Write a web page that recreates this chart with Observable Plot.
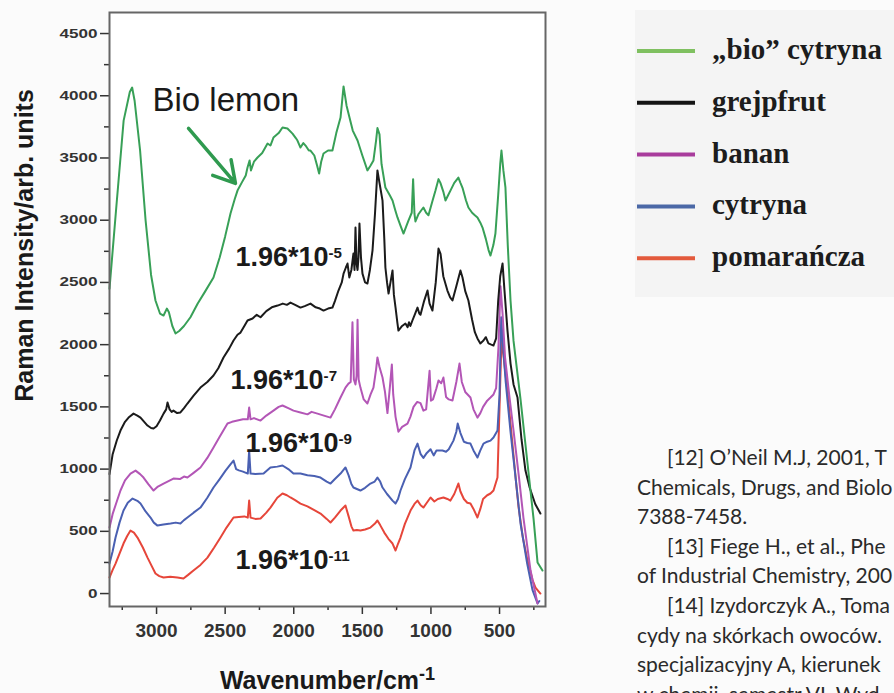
<!DOCTYPE html>
<html>
<head>
<meta charset="utf-8">
<script src="https://cdn.jsdelivr.net/npm/d3@7"></script>
<script src="https://cdn.jsdelivr.net/npm/@observablehq/plot@0.6"></script>
<style>
  html, body { margin: 0; padding: 0; background: #fbfbfb; }
  #fig { position: relative; width: 894px; height: 693px; overflow: hidden; }
  #chart { position: absolute; left: 0; top: 0; }
  #legend { position: absolute; left: 635px; top: 10px; }
  #refs { position: absolute; left: 637px; top: 442px; width: 257px; overflow: hidden;
          font-family: Lato, "Open Sans", sans-serif; font-size: 21px; line-height: 29.6px;
          color: #2a2a2a; white-space: nowrap; }
</style>
</head>
<body>
<div id="fig">
  <div id="chart"></div>
  <div id="legend"></div>
  <div id="refs"></div>
</div>
<script>
// ---------- data (wavenumber cm^-1, intensity arb. units) ----------
const bioLemon = [
  [3343,2450],[3290,3150],[3240,3800],[3195,4030],[3178,4066],[3160,3960],[3120,3560],[3080,3000],
  [3040,2560],[3008,2355],[2975,2250],[2949,2234],[2925,2290],[2910,2260],[2885,2150],[2862,2090],
  [2835,2110],[2800,2150],[2753,2220],[2700,2330],[2650,2420],[2585,2539],[2540,2700],[2500,2870],
  [2461,3054],[2430,3170],[2410,3238],[2380,3300],[2350,3360],[2337,3423],[2322,3480],[2312,3400],
  [2290,3470],[2264,3504],[2230,3540],[2191,3616],[2170,3600],[2148,3664],[2110,3700],[2082,3745],
  [2046,3737],[2009,3696],[1985,3660],[1973,3640],[1951,3584],[1930,3620],[1914,3600],[1890,3560],
  [1878,3560],[1850,3520],[1830,3440],[1815,3375],[1800,3470],[1783,3536],[1750,3560],[1718,3560],
  [1690,3700],[1659,3825],[1637,4075],[1615,3920],[1601,3857],[1570,3720],[1535,3640],[1500,3520],
  [1463,3400],[1440,3440],[1419,3480],[1400,3640],[1390,3740],[1375,3690],[1360,3450],[1332,3263],
  [1300,3200],[1280,3158],[1260,3080],[1244,3022],[1220,2950],[1200,2893],[1180,2950],[1164,2997],
  [1140,3060],[1130,3330],[1120,3050],[1113,2990],[1090,3050],[1070,3080],[1055,3102],[1035,3060],
  [1018,3040],[990,3150],[967,3238],[945,3330],[931,3300],[910,3230],[894,3158],[875,3200],
  [858,3238],[830,3300],[800,3343],[785,3300],[770,3260],[745,3160],[727,3102],[700,3060],
  [680,3040],[661,3022],[640,2980],[624,2941],[600,2850],[580,2760],[566,2716],[545,2800],
  [530,2893],[510,3200],[495,3450],[486,3560],[472,3400],[457,3263],[440,2800],[420,2355],
  [398,2030],[347,1560],[296,1045],[252,600],[223,250],[187,185]
];
const grapefruit = [
  [3343,960],[3320,1120],[3290,1230],[3263,1310],[3230,1380],[3204,1414],[3168,1446],[3140,1430],
  [3117,1414],[3090,1380],[3066,1350],[3040,1330],[3022,1326],[3000,1345],[2975,1390],[2949,1446],
  [2930,1480],[2920,1535],[2905,1480],[2890,1460],[2877,1470],[2850,1450],[2826,1455],[2800,1490],
  [2775,1527],[2730,1590],[2680,1655],[2630,1700],[2585,1752],[2550,1810],[2512,1897],[2470,1970],
  [2439,2033],[2410,2080],[2388,2097],[2360,2150],[2337,2194],[2300,2210],[2270,2240],[2242,2220],
  [2200,2270],[2160,2300],[2118,2314],[2080,2330],[2050,2320],[2024,2338],[1990,2320],[1951,2298],
  [1920,2310],[1878,2330],[1840,2300],[1810,2290],[1783,2274],[1750,2290],[1718,2298],[1700,2350],
  [1674,2435],[1650,2500],[1637,2571],[1620,2620],[1608,2652],[1595,2540],[1580,2600],[1565,2732],
  [1557,2600],[1550,2941],[1542,2650],[1535,2600],[1528,2700],[1521,2973],[1510,2700],[1499,2571],
  [1480,2500],[1463,2491],[1445,2600],[1426,2756],[1408,3050],[1390,3400],[1375,3300],[1353,3158],
  [1340,2850],[1332,2620],[1320,2500],[1309,2411],[1295,2500],[1280,2596],[1270,2400],[1258,2298],
  [1245,2180],[1237,2113],[1210,2150],[1186,2170],[1170,2140],[1160,2180],[1150,2150],[1135,2194],
  [1115,2250],[1098,2298],[1085,2250],[1076,2240],[1050,2350],[1025,2435],[1010,2330],[989,2274],
  [965,2500],[945,2772],[930,2730],[910,2550],[880,2435],[860,2380],[843,2355],[815,2470],
  [785,2596],[770,2540],[750,2430],[727,2355],[700,2200],[680,2100],[661,2050],[640,2010],
  [617,2033],[600,2060],[581,2010],[560,2000],[544,1993],[525,2050],[510,2350],[495,2550],
  [478,2652],[465,2450],[442,2113],[420,1850],[398,1680],[369,1575],[340,1240],[311,988],
  [280,850],[240,720],[202,643]
];
const banana = [
  [3343,530],[3320,640],[3290,740],[3263,828],[3230,910],[3190,964],[3153,988],[3120,960],
  [3095,932],[3060,880],[3022,828],[2990,860],[2949,884],[2920,900],[2877,924],[2830,920],
  [2800,940],[2775,932],[2730,970],[2680,1013],[2630,1090],[2585,1173],[2540,1260],[2483,1366],
  [2450,1380],[2410,1390],[2370,1400],[2335,1400],[2325,1495],[2315,1400],[2290,1410],[2242,1390],
  [2200,1430],[2148,1470],[2110,1500],[2082,1511],[2040,1490],[2002,1470],[1951,1455],[1900,1440],
  [1870,1460],[1827,1446],[1780,1430],[1732,1414],[1700,1480],[1659,1575],[1623,1655],[1601,1687],
  [1585,1700],[1572,2180],[1562,1720],[1550,1680],[1542,1750],[1535,2200],[1527,1720],[1514,1655],
  [1490,1560],[1463,1527],[1440,1600],[1419,1655],[1400,1800],[1390,1897],[1375,1820],[1353,1736],
  [1335,1620],[1317,1450],[1300,1650],[1285,1840],[1275,1600],[1258,1420],[1237,1300],[1210,1340],
  [1171,1366],[1150,1420],[1127,1500],[1100,1540],[1076,1530],[1055,1470],[1035,1480],[1010,1790],
  [1000,1550],[985,1560],[960,1650],[945,1712],[925,1690],[909,1736],[890,1580],[870,1560],
  [843,1551],[815,1700],[792,1848],[775,1700],[750,1620],[712,1575],[690,1480],[661,1414],
  [640,1450],[620,1500],[590,1550],[566,1575],[544,1600],[525,1650],[508,1977],[493,2470],
  [478,2250],[460,1900],[430,1600],[398,1310],[360,950],[326,611],[274,185],[223,-80]
];
const lemon = [
  [3343,241],[3320,340],[3299,450],[3270,570],[3241,667],[3210,730],[3175,763],[3140,745],
  [3117,723],[3080,660],[3044,611],[3020,570],[2993,546],[2950,555],[2898,563],[2860,570],
  [2826,563],[2800,590],[2775,611],[2730,650],[2680,691],[2630,770],[2585,852],[2540,920],
  [2497,988],[2460,1040],[2439,1069],[2420,1000],[2400,990],[2370,980],[2335,964],[2325,1149],
  [2315,964],[2280,960],[2220,964],[2170,1013],[2120,1020],[2082,1029],[2040,1000],[2002,964],
  [1951,964],[1900,950],[1850,945],[1805,932],[1760,900],[1732,884],[1700,920],[1659,964],
  [1623,1013],[1600,950],[1580,880],[1565,852],[1540,840],[1514,828],[1480,850],[1441,884],
  [1410,900],[1390,932],[1370,900],[1353,852],[1320,800],[1280,747],[1258,723],[1240,760],
  [1222,828],[1190,920],[1149,1013],[1120,1150],[1098,1205],[1075,1120],[1055,1090],[1030,1130],
  [1003,1160],[980,1110],[960,1150],[940,1150],[916,1149],[890,1140],[870,1160],[836,1229],
  [815,1300],[805,1366],[785,1290],[760,1220],[735,1210],[712,1205],[690,1150],[661,1093],
  [640,1150],[617,1205],[590,1220],[566,1229],[544,1254],[515,1310],[500,1600],[488,2220],
  [475,2000],[455,1700],[420,1300],[390,1000],[347,563],[300,250],[260,30],[223,-80],[210,-60]
];
const orange = [
  [3343,129],[3320,190],[3299,241],[3270,320],[3241,402],[3215,460],[3190,506],[3165,490],
  [3139,450],[3100,370],[3066,289],[3035,220],[3008,161],[2980,140],[2949,129],[2900,135],
  [2848,129],[2804,121],[2770,150],[2731,185],[2680,230],[2629,289],[2580,370],[2534,450],
  [2490,530],[2439,611],[2400,615],[2360,620],[2335,610],[2325,747],[2315,610],[2280,600],
  [2242,603],[2200,650],[2170,691],[2120,770],[2082,804],[2050,790],[2024,772],[1990,750],
  [1951,723],[1900,700],[1850,670],[1805,643],[1760,600],[1732,571],[1700,610],[1659,667],
  [1623,707],[1600,620],[1580,540],[1565,506],[1540,510],[1514,506],[1480,515],[1441,530],
  [1410,560],[1390,587],[1370,550],[1340,490],[1310,440],[1280,402],[1258,346],[1240,400],
  [1222,450],[1190,560],[1149,667],[1120,720],[1098,747],[1075,710],[1055,691],[1030,730],
  [1003,772],[975,740],[950,760],[909,772],[880,760],[858,747],[830,800],[800,884],
  [785,820],[760,760],[735,730],[712,723],[690,680],[661,611],[640,680],[620,760],
  [590,790],[566,804],[544,828],[515,932],[500,1500],[486,2040],[470,1900],[440,1600],
  [410,1250],[380,900],[362,700],[330,450],[296,265],[260,110],[238,48],[202,0]
];

const seriesNames  = ["„bio” cytryna", "grejpfrut", "banan", "cytryna", "pomarańcza"];
const seriesData   = [bioLemon, grapefruit, banana, lemon, orange];
const lineColors   = ["#38a057", "#1b1b1b", "#b356b6", "#4a60b2", "#e6463a"];
const legendColors = ["#7fc060", "#141414", "#a83c9c", "#4b68a6", "#e35a3c"];

const xDomain = [3343, 165];
const yDomain = [-104, 4669];
const xMajor = [3000, 2500, 2000, 1500, 1000, 500];
const xMinor = [3250, 2750, 2250, 1750, 1250, 750, 250];
const yMajor = [0, 500, 1000, 1500, 2000, 2500, 3000, 3500, 4000, 4500];
const yMinor = [250, 750, 1250, 1750, 2250, 2750, 3250, 3750, 4250];

const annotationText = "Bio lemon";
const annotationPos = [3030, 3962];
const arrowFrom = [2767, 3738];
const arrowTo = [2425, 3296];

const concBase = ["1.96*10", "1.96*10", "1.96*10", "1.96*10"];
const concExp  = ["-5", "-7", "-9", "-11"];
const concX    = [2425, 2461, 2352, 2425];
const concY    = [2700, 1712, 1205, 265];

const xLabel = "Wavenumber/cm";
const xLabelExp = "-1";
const yLabel = "Raman Intensity/arb. units";
const yLabelAt = 2797;

const refLines = [
  "[12] O’Neil M.J, 2001, T",
  "Chemicals, Drugs, and Biolo",
  "7388-7458.",
  "[13] Fiege H., et al., Phe",
  "of Industrial Chemistry, 200",
  "[14] Izydorczyk A., Toma",
  "cydy na skórkach owoców.",
  "specjalizacyjny A, kierunek",
  "w chemii, semestr VI, Wyd"
];
const refIndent = [true, false, false, true, false, true, false, false, false];

// ---------- chart ----------
const font = "'Liberation Sans', Arial, sans-serif";
const concData = concBase.map((b, i) => ({x: concX[i], y: concY[i], t: b}));

const chart = Plot.plot({
  width: 600,
  height: 693,
  marginLeft: 109,
  marginRight: 55,
  marginTop: 12,
  marginBottom: 87,
  style: {background: "transparent", fontFamily: font, color: "#333", overflow: "visible"},
  x: {domain: xDomain, label: null},
  y: {domain: yDomain, label: null},
  marks: [
    Plot.frame({fill: "white"}),
    Plot.axisX({ticks: xMajor, tickSize: 8, tickPadding: 9, tickFormat: d => String(d),
                fontSize: 19, fontWeight: "bold", strokeWidth: 1.5, label: null}),
    Plot.axisX({ticks: xMinor, tickSize: 4, tickFormat: () => "", strokeWidth: 1.5, label: null}),
    Plot.axisY({ticks: yMajor, tickSize: 9, tickPadding: 3, tickFormat: d => String(d),
                fontSize: 12.5, fontWeight: "bold", strokeWidth: 1.5, label: null}),
    Plot.axisY({ticks: yMinor, tickSize: 5, tickFormat: () => "", strokeWidth: 1.5, label: null}),
    ...[4, 3, 2, 1, 0].map(i => Plot.line(seriesData[i], {
      x: d => d[0], y: d => d[1], stroke: lineColors[i], strokeWidth: 2, strokeLinejoin: "round"
    })),
    Plot.frame({stroke: "#666", strokeWidth: 2}),
    Plot.text([annotationText], {x: [annotationPos[0]], y: [annotationPos[1]], text: d => d,
      textAnchor: "start", lineAnchor: "middle", fontSize: 33, fill: "#1a1a1a"}),
    Plot.arrow([0], {x1: [arrowFrom[0]], y1: [arrowFrom[1]], x2: [arrowTo[0]], y2: [arrowTo[1]],
      stroke: "#2f9a4f", strokeWidth: 3.5, headLength: 14, headAngle: 60}),
    Plot.text(concData, {x: "x", y: "y", text: "t", textAnchor: "start", lineAnchor: "middle",
      fontSize: 27, fontWeight: "bold", fill: "#1a1a1a"}),
    Plot.text([xLabel], {text: d => d, frameAnchor: "bottom", dy: 82, textAnchor: "middle",
      lineAnchor: "bottom", fontSize: 25, fontWeight: "bold", fill: "#1a1a1a"}),
    Plot.text([yLabel], {text: d => d, y: [yLabelAt], frameAnchor: "left", dx: -77, rotate: -90,
      textAnchor: "middle", lineAnchor: "bottom", fontSize: 25, fontWeight: "bold", fill: "#1a1a1a"})
  ]
});
document.getElementById("chart").appendChild(chart);

const svg = d3.select(chart);
svg.selectAll('g[aria-label="y-axis tick label"] text').each(function() {
  const s = this.textContent;
  d3.select(this).attr("textLength", 9.5 * s.length).attr("lengthAdjust", "spacingAndGlyphs");
});
let ci = 0;
svg.selectAll("text").each(function() {
  const el = d3.select(this);
  const s = this.textContent;
  if (s === concBase[0] && ci < concExp.length) {
    el.append("tspan").attr("dy", "-0.55em").attr("font-size", "0.56em").text(concExp[ci]);
    ci++;
  } else if (s === xLabel) {
    el.append("tspan").attr("dy", "-0.45em").attr("font-size", "0.72em").text(xLabelExp);
  }
});

// ---------- legend ----------
const lg = d3.select("#legend").append("svg").attr("width", 259).attr("height", 287)
  .style("display", "block");
lg.append("rect").attr("width", 259).attr("height", 287).attr("fill", "#f4f4f4");
seriesNames.forEach((name, i) => {
  const cy = 41 + i * 51.8;
  lg.append("line").attr("x1", 2).attr("x2", 60).attr("y1", cy).attr("y2", cy)
    .attr("stroke", legendColors[i]).attr("stroke-width", 4);
  lg.append("text").attr("x", 77).attr("y", cy + 8).text(name)
    .attr("font-family", "'Liberation Serif', 'Times New Roman', serif")
    .attr("font-size", 29).attr("font-weight", "bold").attr("fill", "#1c1c1c");
});

// ---------- references text ----------
const refs = d3.select("#refs");
refLines.forEach((t, i) => {
  refs.append("div").style("padding-left", refIndent[i] ? "30px" : "0px").text(t);
});
</script>
</body>
</html>
